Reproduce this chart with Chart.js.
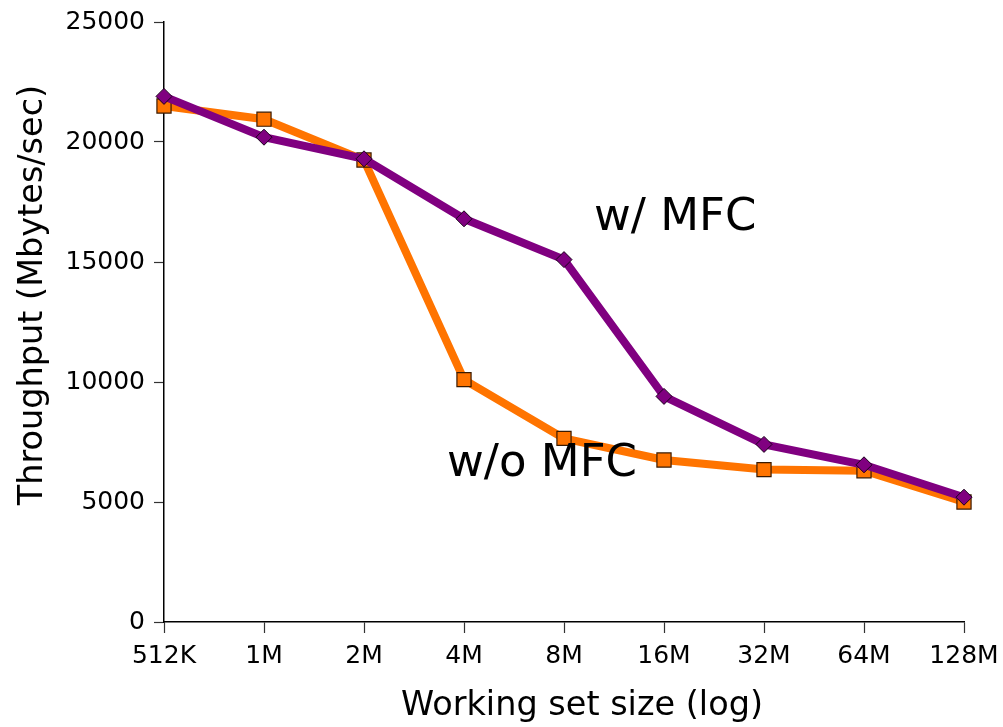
<!DOCTYPE html>
<html>
<head>
<meta charset="utf-8">
<script src="https://cdn.jsdelivr.net/npm/chart.js@4/dist/chart.umd.min.js"></script>
<style>
html,body{margin:0;padding:0;background:#fff;}
#wrap{width:1003px;height:727px;position:relative;}
</style>
</head>
<body>
<div id="wrap"><canvas id="c" width="1003" height="727"></canvas></div>
<script>
const categories = ["512K","1M","2M","4M","8M","16M","32M","64M","128M"];
const withMFC = [21900, 20200, 19300, 16800, 15100, 9400, 7400, 6550, 5200];
const withoutMFC = [21500, 20950, 19250, 10100, 7650, 6750, 6350, 6300, 5000];
const yTicks = [0, 5000, 10000, 15000, 20000, 25000];
const seriesNames = ["w/ MFC", "w/o MFC"];
const xTitle = "Working set size (log)";
const yTitle = "Throughput (Mbytes/sec)";

const FONT = "'DejaVu Sans', sans-serif";

const labelsPlugin = {
  id: 'seriesLabels',
  afterDatasetsDraw(chart) {
    const ctx = chart.ctx;
    ctx.save();
    ctx.fillStyle = '#000';
    ctx.font = "45px " + FONT;
    ctx.textBaseline = 'alphabetic';
    ctx.textAlign = 'left';
    ctx.fillText(seriesNames[0], 594, 230);
    ctx.fillText(seriesNames[1], 447, 476);
    // axis titles
    ctx.font = "33.5px " + FONT;
    ctx.textAlign = 'center';
    ctx.fillText(xTitle, 582, 715);
    ctx.translate(42, 295);
    ctx.rotate(-Math.PI / 2);
    ctx.fillText(yTitle, 0, 0);
    ctx.restore();
  }
};

new Chart(document.getElementById('c'), {
  type: 'line',
  data: {
    labels: categories,
    datasets: [
      {
        label: seriesNames[0],
        data: withMFC,
        borderColor: '#800080',
        backgroundColor: '#800080',
        borderWidth: 8,
        pointStyle: 'rectRot',
        pointRadius: 8,
        pointBorderColor: '#1a001a',
        pointBorderWidth: 1,
        pointBackgroundColor: '#800080',
        tension: 0,
        order: 1
      },
      {
        label: seriesNames[1],
        data: withoutMFC,
        borderColor: '#FF7400',
        backgroundColor: '#FF7400',
        borderWidth: 8,
        pointStyle: 'rect',
        pointRadius: 10,
        pointBorderColor: '#3a1a00',
        pointBorderWidth: 1.2,
        pointBackgroundColor: '#FF7400',
        tension: 0,
        order: 2
      }
    ]
  },
  options: {
    responsive: false,
    animation: false,
    layout: { padding: { top: 22, right: 39, left: 0, bottom: 0 } },
    plugins: {
      legend: { display: false },
      tooltip: { enabled: false }
    },
    scales: {
      x: {
        offset: false,
        grid: { display: true, drawOnChartArea: false, drawTicks: true, tickLength: 11, tickColor: '#333', tickWidth: 1.2 },
        border: { display: true, color: '#000', width: 1.5 },
        ticks: { color: '#000', font: { family: FONT, size: 25 }, padding: 8, maxRotation: 0, autoSkip: false },
        title: { display: false },
        afterFit(scale) { scale.height = 105; scale.paddingLeft = 0; scale.paddingRight = 0; }
      },
      y: {
        min: 0,
        max: 25000,
        afterBuildTicks(scale) { scale.ticks = yTicks.map(v => ({ value: v })); },
        grid: { display: true, drawOnChartArea: false, drawTicks: true, tickLength: 10, tickColor: '#333', tickWidth: 1.2 },
        border: { display: true, color: '#000', width: 1.5 },
        ticks: { color: '#000', font: { family: FONT, size: 25 }, padding: 9, callback: (v) => String(v) },
        title: { display: false },
        afterFit(scale) { scale.width = 164; scale.paddingTop = 0; scale.paddingBottom = 0; }
      }
    }
  },
  plugins: [labelsPlugin]
});
</script>
</body>
</html>
